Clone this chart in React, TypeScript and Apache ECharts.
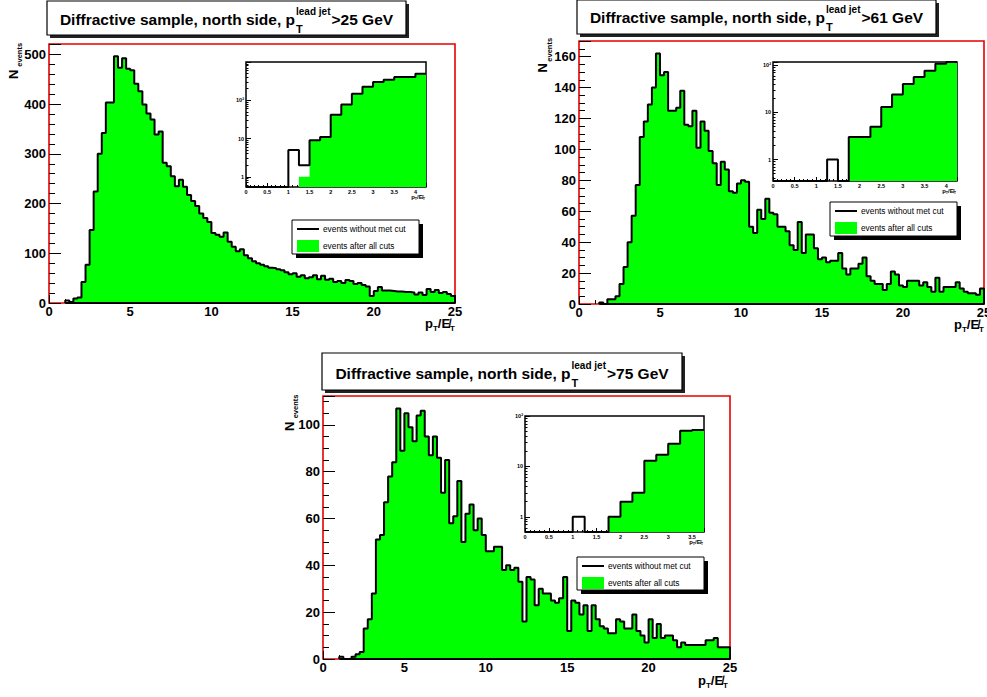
import React, { useEffect, useRef } from 'react';
import * as echarts from 'echarts';

// ---------------- data ----------------
const BIN_WIDTH = 0.25; // p_T / MET bin width
const X_MAX = 25;

// p_T(lead jet) > 25 GeV : events without met cut (100 bins, 0..25)
const noMetCut25 = [
  0, 0, 0, 0, 5, 2, 9, 11, 42, 77,
  147, 224, 300, 342, 403, 403, 496, 473, 492, 471,
  468, 441, 426, 399, 381, 369, 339, 345, 282, 275,
  255, 235, 248, 234, 217, 205, 195, 180, 171, 163,
  141, 137, 133, 142, 123, 113, 104, 108, 96, 90,
  84, 80, 77, 74, 71, 70, 68, 66, 62, 58,
  60, 53, 56, 50, 52, 56, 48, 55, 47, 49,
  42, 44, 40, 46, 44, 38, 40, 36, 33, 14,
  24, 32, 25, 25, 24, 23, 23, 22, 22, 21,
  17, 21, 16, 28, 22, 26, 20, 22, 18, 14,
];
// after all cuts: first bins differ, the rest is identical
const allCutsLow25 = [0, 0, 0, 0, 0, 1];

// p_T(lead jet) > 61 GeV
const noMetCut61 = [
  0, 0, 0, 0, 0, 1, 0, 3, 3, 5,
  13, 24, 40, 57, 77, 108, 118, 129, 140, 162,
  148, 150, 125, 125, 127, 138, 116, 115, 125, 101,
  118, 112, 99, 91, 77, 92, 87, 73, 72, 78,
  80, 79, 50, 46, 61, 55, 68, 59, 58, 50,
  50, 47, 38, 35, 53, 33, 45, 45, 36, 29,
  30, 27, 28, 28, 33, 23, 19, 23, 23, 26,
  30, 18, 15, 13, 13, 9, 13, 21, 19, 12,
  11, 15, 15, 15, 12, 14, 11, 8, 17, 8,
  11, 11, 11, 14, 10, 8, 7, 7, 6, 10,
];
const allCutsLow61 = [0, 0, 0, 0, 0, 0];

// p_T(lead jet) > 75 GeV
const noMetCut75 = [
  0, 0, 0, 0, 1, 0, 0, 1, 2, 3,
  13, 17, 28, 51, 53, 67, 78, 84, 107, 89,
  105, 99, 93, 104, 106, 95, 87, 95, 86, 71,
  85, 58, 61, 76, 50, 62, 66, 55, 60, 53,
  46, 46, 48, 48, 38, 40, 38, 39, 33, 16,
  35, 34, 23, 30, 28, 28, 25, 24, 26, 35,
  12, 25, 24, 19, 23, 12, 23, 17, 14, 13,
  11, 11, 17, 16, 13, 13, 19, 12, 10, 7,
  17, 9, 15, 9, 10, 10, 8, 5, 7, 6,
  6, 6, 6, 6, 8, 8, 9, 5, 5, 5,
];
const allCutsLow75 = [0, 0, 0, 0, 0];

const thresholds = ['>25 GeV', '>61 GeV', '>75 GeV'];
const titleHead = 'Diffractive sample, north side, p';
const titleSub = 'T';
const titleSup = 'lead jet';
const legendLabels = ['events without met cut', 'events after all cuts'];

// ---------------- layout ----------------
const FONT = "'Liberation Sans', Arial, Helvetica, sans-serif";
const GREEN = '#00ff00';
const FRAME_RED = '#e80000';
const K = 0.3465; // central-baseline offset (em)

const LAYOUT = [
  {
    main: { left: 49, top: 44, width: 406, height: 259 },
    inset: { left: 246, top: 62, width: 180, height: 125 },
    insetXMax: 4.25, insetY: [0.54, 1000],
    yStep: 100, yMinor: 5,
    titleBox: [47, 1, 359, 34], titleBase: 25,
    legendBox: [292, 220, 127, 34],
    yTitle: { nX: 13.8, nY: 79, eX: 19.7, eY: 66.7 },
    xTitle: { right: 455, base: 328 },
  },
  {
    main: { left: 579, top: 41, width: 405, height: 263 },
    inset: { left: 773, top: 62, width: 184, height: 119 },
    insetXMax: 4.25, insetY: [0.35, 118],
    yStep: 20, yMinor: 4,
    titleBox: [577, 0, 359, 34], titleBase: 23.3,
    legendBox: [830, 202, 127, 34],
    yTitle: { nX: 542, nY: 72.5, eX: 549.1, eY: 61.7 },
    xTitle: { right: 984, base: 329 },
  },
  {
    main: { left: 323, top: 396, width: 407, height: 263 },
    inset: { left: 525, top: 416, width: 179, height: 116 },
    insetXMax: 3.75, insetY: [0.5, 100],
    yStep: 20, yMinor: 4,
    titleBox: [322, 353, 360, 37], titleBase: 379.3,
    legendBox: [577, 557, 127, 33],
    yTitle: { nX: 289, nY: 431, eX: 295.7, eY: 418.3 },
    xTitle: { right: 728, base: 685 },
  },
];

const PANEL_DATA = [
  { noMet: noMetCut25, low: allCutsLow25 },
  { noMet: noMetCut61, low: allCutsLow61 },
  { noMet: noMetCut75, low: allCutsLow75 },
];

// ---------------- helpers ----------------
let measureCtx: CanvasRenderingContext2D | null = null;
function textWidth(text: string, font: string): number {
  if (!measureCtx) measureCtx = document.createElement('canvas').getContext('2d');
  if (!measureCtx) return text.length * 7;
  measureCtx.font = font;
  return measureCtx.measureText(text).width;
}
const fontOf = (size: number, weight = 'bold') => `${weight} ${size}px ${FONT}`;

function textEl(text: string, x: number, y: number, size: number, weight = 'bold', align = 'left', rotation = 0) {
  return {
    type: 'text', x, y, rotation, z: 100, silent: true,
    style: {
      text, fill: '#000', fontSize: size, fontWeight: weight, fontFamily: FONT,
      align, verticalAlign: 'middle', textAlign: align, textVerticalAlign: 'middle',
    },
  };
}

type Piece = { t: string; s: number; dy: number };
function runRight(pieces: Piece[], right: number, base: number) {
  const widths = pieces.map((p) => textWidth(p.t, fontOf(p.s)));
  const total = widths.reduce((a, b) => a + b, 0);
  let x = right - total;
  return pieces.map((p, i) => {
    const el = textEl(p.t, x, base + p.dy - K * p.s, p.s);
    x += widths[i];
    return el;
  });
}
const ptOverMet = (scale: number): Piece[] => [
  { t: 'p', s: 13 * scale, dy: 0 },
  { t: 'T', s: 8 * scale, dy: 3.5 * scale },
  { t: '/', s: 13 * scale, dy: 0 },
  { t: 'E\u0338', s: 13 * scale, dy: 0 },
  { t: 'T', s: 8 * scale, dy: 3.5 * scale },
];

function titleElements(L: any, threshold: string) {
  const [bx, by, bw, bh] = L.titleBox;
  const MAIN = 15.5, SUB = 11, SUP = 10;
  const wHead = textWidth(titleHead, fontOf(MAIN));
  const wScript = Math.max(textWidth(titleSub, fontOf(SUB)), textWidth(titleSup, fontOf(SUP)));
  const wTail = textWidth(threshold, fontOf(MAIN));
  const total = wHead + 1 + wScript + 1 + wTail;
  const x0 = bx + bw / 2 - total / 2;
  const B = L.titleBase;
  return [
    { type: 'rect', z: 98, silent: true, shape: { x: bx + 3, y: by + 3, width: bw, height: bh }, style: { fill: '#222' } },
    { type: 'rect', z: 99, silent: true, shape: { x: bx, y: by, width: bw, height: bh }, style: { fill: '#fff', stroke: '#000', lineWidth: 1.2 } },
    textEl(titleHead, x0, B - K * MAIN, MAIN),
    textEl(titleSub, x0 + wHead + 1, B + 8 - K * SUB, SUB),
    textEl(titleSup, x0 + wHead + 1, B - 10.5 - K * SUP, SUP),
    textEl(threshold, x0 + wHead + 1 + wScript + 1, B - K * MAIN, MAIN),
  ];
}

function legendElements(L: any) {
  const [x, y, w, h] = L.legendBox;
  return [
    { type: 'rect', z: 98, silent: true, shape: { x: x + 4, y: y + 4, width: w, height: h }, style: { fill: '#000' } },
    { type: 'rect', z: 99, silent: true, shape: { x, y, width: w, height: h }, style: { fill: '#fff', stroke: '#000', lineWidth: 1 } },
    { type: 'line', z: 100, silent: true, shape: { x1: x + 5, y1: y + 9, x2: x + 27, y2: y + 9 }, style: { stroke: '#000', lineWidth: 2 } },
    textEl(legendLabels[0], x + 31, y + 9, 8.3, 'normal'),
    { type: 'rect', z: 100, silent: true, shape: { x: x + 5, y: y + 20, width: 22, height: 12 }, style: { fill: GREEN } },
    textEl(legendLabels[1], x + 31, y + 25.5, 8.3, 'normal'),
  ];
}

function yTitleElements(L: any) {
  const t = L.yTitle;
  return [
    textEl('N', t.nX, t.nY, 13, 'bold', 'left', Math.PI / 2),
    textEl('events', t.eX, t.eY, 7.5, 'bold', 'left', Math.PI / 2),
  ];
}

// histogram as step-line points (left edges + closing right edge)
function stepPoints(vals: number[], from: number, to: number, floor: number) {
  const pts: number[][] = [];
  for (let i = from; i < to; i++) pts.push([i * BIN_WIDTH, Math.max(vals[i], floor)]);
  pts.push([to * BIN_WIDTH, Math.max(vals[to - 1], floor)]);
  return pts;
}
function closedOutline(vals: number[]) {
  let first = vals.findIndex((v) => v > 0);
  if (first < 0) first = 0;
  const pts = stepPoints(vals, first, vals.length, 0);
  const x0 = first * BIN_WIDTH;
  const xEnd = vals.length * BIN_WIDTH;
  return [[x0, 0], ...pts, [xEnd, 0], [x0, 0]];
}

const multipleLabel = (step: number) => (v: number) =>
  Math.abs(v / step - Math.round(v / step)) < 1e-6 ? String(Math.round(v * 100) / 100) : '';
const logLabel = (v: number) => {
  const e = Math.log10(v);
  if (Math.abs(e - Math.round(e)) > 1e-6) return '';
  const n = Math.round(e);
  return n === 0 ? '1' : n === 1 ? '10' : n === 2 ? '10\u00b2' : '';
};

function buildOption() {
  const grid: any[] = [];
  const xAxis: any[] = [];
  const yAxis: any[] = [];
  const series: any[] = [];
  const elements: any[] = [];
  const black = { color: '#000', width: 1 };

  LAYOUT.forEach((L, k) => {
    const D = PANEL_DATA[k];
    const allCuts = D.low.concat(D.noMet.slice(D.low.length));
    const yMax = Math.max(...D.noMet) * 1.05;
    const gMain = 2 * k, gIn = 2 * k + 1;

    grid.push({ ...L.main, show: true, borderColor: FRAME_RED, borderWidth: 1.6, backgroundColor: 'transparent', containLabel: false, outerBoundsMode: 'none' });
    grid.push({ ...L.inset, show: true, borderColor: '#000', borderWidth: 1.5, backgroundColor: '#fff', containLabel: false, outerBoundsMode: 'none' });

    xAxis.push({
      type: 'value', gridIndex: gMain, min: 0, max: X_MAX, interval: 5,
      axisLine: { show: false }, splitLine: { show: false },
      axisTick: { show: true, inside: true, length: 8, lineStyle: black },
      minorTick: { show: true, splitNumber: 5, length: 4, lineStyle: black },
      axisLabel: { margin: 2, color: '#000', fontSize: 13, fontWeight: 'bold', fontFamily: FONT, formatter: multipleLabel(5) },
    });
    yAxis.push({
      type: 'value', gridIndex: gMain, min: 0, max: yMax, interval: L.yStep,
      axisLine: { show: false }, splitLine: { show: false },
      axisTick: { show: true, inside: true, length: 12, lineStyle: black },
      minorTick: { show: true, splitNumber: L.yMinor, length: 6, lineStyle: black },
      axisLabel: { margin: 3, color: '#000', fontSize: 13, fontWeight: 'bold', fontFamily: FONT, formatter: multipleLabel(L.yStep) },
    });
    xAxis.push({
      type: 'value', gridIndex: gIn, min: 0, max: L.insetXMax, interval: 0.5,
      axisLine: { show: false }, splitLine: { show: false },
      axisTick: { show: true, inside: true, length: 4, lineStyle: black },
      minorTick: { show: true, splitNumber: 5, length: 2, lineStyle: black },
      axisLabel: { margin: 2, color: '#000', fontSize: 5.5, fontWeight: 'bold', fontFamily: FONT, formatter: multipleLabel(0.5) },
    });
    yAxis.push({
      type: 'log', logBase: 10, gridIndex: gIn, min: L.insetY[0], max: L.insetY[1],
      axisLine: { show: false }, splitLine: { show: false },
      axisTick: { show: true, inside: true, length: 5, lineStyle: black },
      minorTick: { show: true, splitNumber: 9, length: 2.5, lineStyle: black },
      axisLabel: { margin: 2, color: '#000', fontSize: 5.5, fontWeight: 'bold', fontFamily: FONT, formatter: logLabel },
    });

    const nIn = Math.round(L.insetXMax / BIN_WIDTH);
    const yMinIn = L.insetY[0];

    series.push({
      type: 'line', xAxisIndex: gMain, yAxisIndex: gMain, step: 'end', symbol: 'none', silent: true, z: 2,
      data: stepPoints(allCuts, 0, allCuts.length, 0),
      lineStyle: { width: 0, color: GREEN }, areaStyle: { color: GREEN, opacity: 1 },
    });
    series.push({
      type: 'line', xAxisIndex: gMain, yAxisIndex: gMain, step: 'end', symbol: 'none', silent: true, z: 3,
      data: closedOutline(D.noMet),
      lineStyle: { width: 2, color: '#000' },
    });
    series.push({
      type: 'line', xAxisIndex: gIn, yAxisIndex: gIn, step: 'end', symbol: 'none', silent: true, z: 4,
      data: stepPoints(allCuts, 0, nIn, yMinIn),
      lineStyle: { width: 0, color: GREEN }, areaStyle: { color: GREEN, opacity: 1, origin: 'start' },
    });
    series.push({
      type: 'line', xAxisIndex: gIn, yAxisIndex: gIn, step: 'end', symbol: 'none', silent: true, z: 5,
      data: stepPoints(D.noMet, 0, nIn, yMinIn),
      lineStyle: { width: 2, color: '#000' },
    });

    elements.push(...titleElements(L, thresholds[k]));
    elements.push(...legendElements(L));
    elements.push(...yTitleElements(L));
    elements.push(...runRight(ptOverMet(1), L.xTitle.right, L.xTitle.base));
    const inBottom = L.inset.top + L.inset.height;
    elements.push(...runRight(ptOverMet(0.46), L.inset.left + L.inset.width - 1, inBottom + 12));
  });

  return {
    animation: false,
    backgroundColor: '#fff',
    textStyle: { fontFamily: FONT },
    grid, xAxis, yAxis, series,
    graphic: { elements },
  };
}

export default function App() {
  const ref = useRef<HTMLDivElement>(null);
  useEffect(() => {
    if (!ref.current) return;
    const chart = echarts.init(ref.current, null, { renderer: 'svg' });
    chart.setOption(buildOption() as any);
    return () => chart.dispose();
  }, []);
  return (
    <div
      ref={ref}
      style={{ position: 'fixed', left: 0, top: 0, width: 987, height: 697, background: '#fff' }}
    />
  );
}
